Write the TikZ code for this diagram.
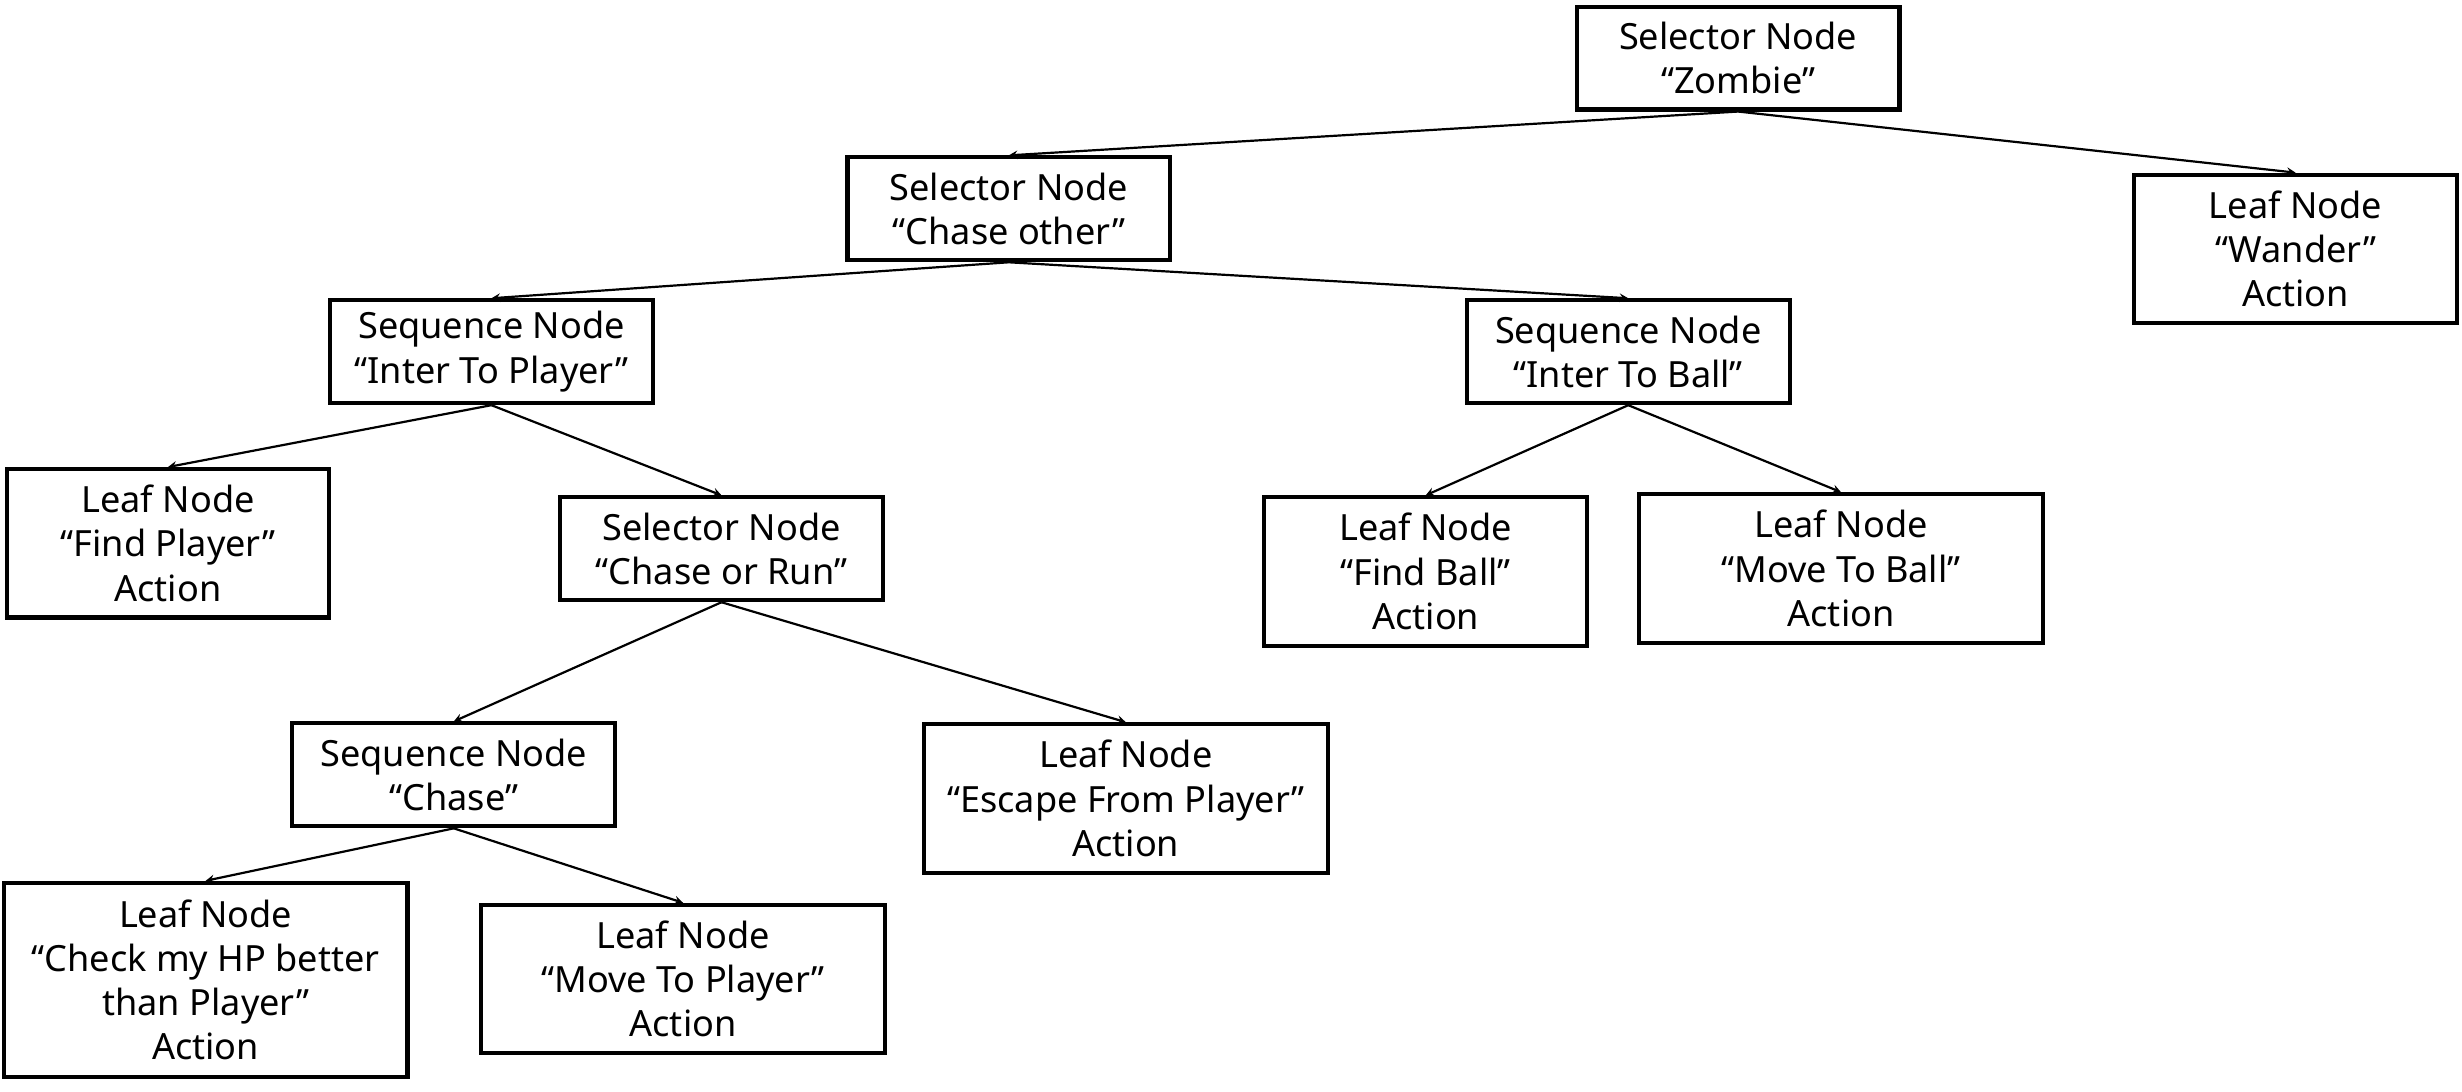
\documentclass[tikz,border=0pt]{standalone}
\usepackage{fontspec}
\setmainfont{Noto Sans}
\usetikzlibrary{calc}
\tikzset{>=stealth}
\tikzset{
    treebox/.style={draw, line width=2.6pt, align=center, inner sep=0pt,
        minimum width=205.5pt, minimum height=65.5pt,
        font=\fontsize{23}{28.2}\selectfont}, % two text lines
    widebox/.style={treebox, minimum width=257pt},
    threeline/.style={minimum height=94.5pt},
    fourline/.style={minimum height=123.5pt},
    treelink/.style={->, line width=1.4pt},
}

\begin{document}
\begin{tikzpicture}[x=1pt,y=-1pt]
    \useasboundingbox (0,0) rectangle (1568,695);
    \node[treebox] (zombie) at (1107,37) {Selector Node\\“Zombie”};
    \node[treebox, threeline] (wander) at (1462,158.5) {Leaf Node\\“Wander”\\Action};
    \node[treebox] (chaseother) at (642.5,133) {Selector Node\\“Chase other”};
    \node[treebox] (intplayer) at (313,224) {Sequence Node\\“Inter To Player”};
    \node[treebox] (intball) at (1037,224) {Sequence Node\\“Inter To Ball”};
    \node[treebox, threeline] (findplayer) at (107,346) {Leaf Node\\“Find Player”\\Action};
    \node[treebox] (chaserun) at (459.5,349.5) {Selector Node\\“Chase or Run”};
    \node[treebox, threeline] (findball) at (908,364) {Leaf Node\\“Find Ball”\\Action};
    \node[widebox, threeline] (moveball) at (1172.5,362) {Leaf Node\\“Move To Ball”\\Action};
    \node[treebox] (chase) at (289,493.5) {Sequence Node\\“Chase”};
    \node[widebox, threeline] (escape) at (717,508.5) {Leaf Node\\“Escape From Player”\\Action};
    \node[widebox, fourline] (checkhp) at (131,624) {Leaf Node\\“Check my HP better\\than Player”\\Action};
    \node[widebox, threeline] (moveplayer) at (435,623.5) {Leaf Node\\“Move To Player”\\Action};

    \draw[treelink] (zombie.south) -- (chaseother.north);
    \draw[treelink] (zombie.south) -- (wander.north);
    \draw[treelink] (chaseother.south) -- (intplayer.north);
    \draw[treelink] (chaseother.south) -- (intball.north);
    \draw[treelink] (intplayer.south) -- (findplayer.north);
    \draw[treelink] (intplayer.south) -- (chaserun.north);
    \draw[treelink] (intball.south) -- (findball.north);
    \draw[treelink] (intball.south) -- (moveball.north);
    \draw[treelink] (chaserun.south) -- (chase.north);
    \draw[treelink] (chaserun.south) -- (escape.north);
    \draw[treelink] (chase.south) -- (checkhp.north);
    \draw[treelink] (chase.south) -- (moveplayer.north);
\end{tikzpicture}
\end{document}
